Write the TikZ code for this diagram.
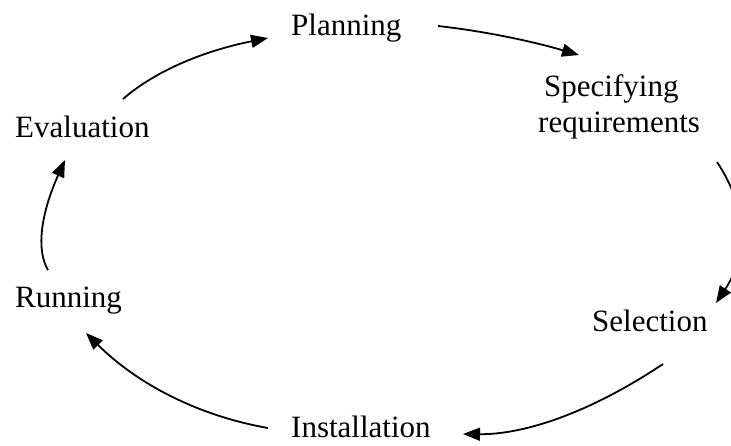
\documentclass[tikz,border=0pt]{standalone}
\usepackage{fontspec}
\setmainfont{Liberation Serif}
\usetikzlibrary{arrows.meta}
\begin{document}
\begin{tikzpicture}[x=1pt,y=-1pt,
  label/.style={inner sep=0pt,anchor=base west,font=\fontsize{31}{36}\selectfont},
  flow/.style={line width=1.8pt,-{Triangle[length=17pt,width=13pt]}}]
\useasboundingbox (0,0) rectangle (731,445);
\clip (0,0) rectangle (731,445);

% stages of the cycle
\node[label] (plan) at (291,35) {Planning};
\node[label] (spec) at (544,96) {Specifying};
\node[label] (req)  at (538,132) {requirements};
\node[label] (sel)  at (592,331) {Selection};
\node[label] (inst) at (291,437) {Installation};
\node[label] (run)  at (15,307) {Running};
\node[label] (eval) at (15,137) {Evaluation};

% arrow end points around the stages
\coordinate (plan-out) at (438,26);
\coordinate (spec-in)  at (579,55);
\coordinate (spec-out) at (717,162);
\coordinate (sel-in)   at (716,303);
\coordinate (sel-out)  at (663,364);
\coordinate (inst-in)  at (463,434);
\coordinate (inst-out) at (268,428);
\coordinate (run-in)   at (86,333);
\coordinate (run-out)  at (48,270);
\coordinate (eval-in)  at (65,160);
\coordinate (eval-out) at (123,99);
\coordinate (plan-in)  at (268,38);

% curved arrows of the cycle
\draw[flow] (plan-out) .. controls (483,31) and (530,40.7) .. (spec-in);
\draw[flow] (spec-out) .. controls (748,208.3) and (747.7,255.3) .. (sel-in);
\draw[flow] (sel-out)  .. controls (592.3,411.3) and (525.7,434.7) .. (inst-in);
\draw[flow] (inst-out) .. controls (198,415.7) and (137.3,384) .. (run-in);
\draw[flow] (run-out)  .. controls (35.7,249.3) and (41.3,212.7) .. (eval-in);
\draw[flow] (eval-out) .. controls (154.7,71.3) and (203,51) .. (plan-in);
\end{tikzpicture}
\end{document}
